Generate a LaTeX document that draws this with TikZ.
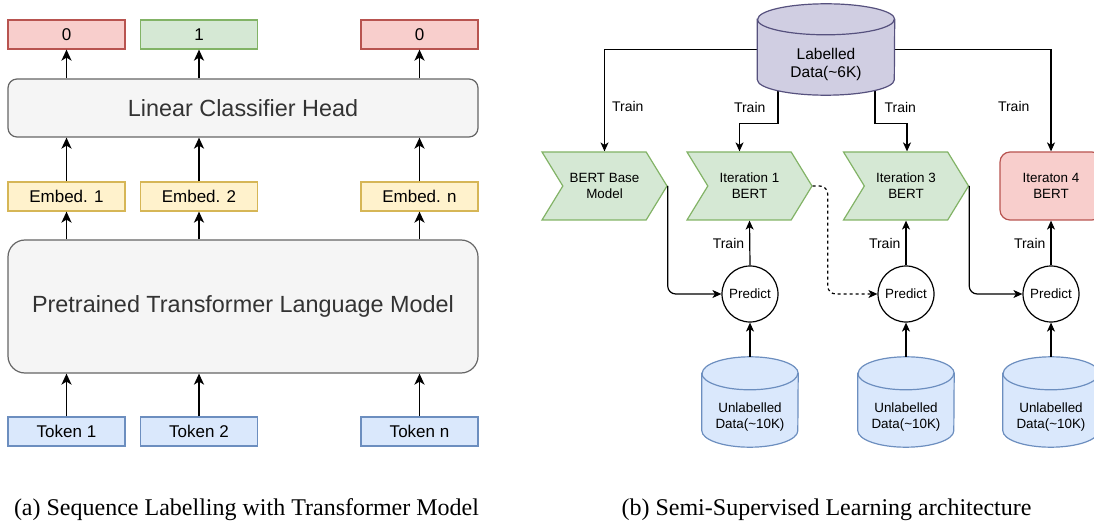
\documentclass[tikz,border=0pt]{standalone}
\usepackage{fontspec}
\setmainfont{Liberation Serif}
\setsansfont{Liberation Sans}
\usetikzlibrary{arrows.meta, calc, backgrounds, positioning, shapes.geometric, shapes.symbols}
\definecolor{redfill}{HTML}{F8CECC}\definecolor{redline}{HTML}{B85450}
\definecolor{greenfill}{HTML}{D5E8D4}\definecolor{greenline}{HTML}{82B366}
\definecolor{yellowfill}{HTML}{FFF2CC}\definecolor{yellowline}{HTML}{D6B656}
\definecolor{bluefill}{HTML}{DAE8FC}\definecolor{blueline}{HTML}{6C8EBF}
\definecolor{grayfill}{HTML}{F5F5F5}\definecolor{grayline}{HTML}{666666}
\definecolor{graytext}{HTML}{333333}
\definecolor{purplefill}{HTML}{D0CEE2}\definecolor{purpleline}{HTML}{56517E}
\tikzset{
	tokbox/.style={rectangle, line width=1.2pt, inner sep=0pt,
		minimum width=117pt, minimum height=29pt,
		font=\sffamily\fontsize{17}{20}\selectfont},
	bigbox/.style={rectangle, rounded corners=#1, line width=1.2pt,
		fill=grayfill, draw=grayline, text=graytext, minimum width=470pt,
		font=\sffamily\fontsize{23.4}{28}\selectfont},
	arrL/.style={-{Stealth[length=11pt,width=10pt,inset=3pt]}, line width=1.7pt},
	arrR/.style={-{Stealth[length=9pt,width=8pt,inset=2.5pt]}, line width=1.2pt},
	small/.style={font=\sffamily\fontsize{13.4}{16}\selectfont, align=center},
	trainlbl/.style={font=\sffamily\fontsize{14}{16}\selectfont, inner sep=0pt},
	chev/.style={small, signal, signal to=east, signal from=west,
		signal pointer angle=117, fill=greenfill, draw=greenline, line width=1.2pt,
		minimum width=125pt, minimum height=68pt, inner sep=0pt},
	pred/.style={small, circle, draw, line width=1.2pt, minimum size=56pt, inner sep=0pt},
	db/.style={rectangle, inner sep=0pt},
	dbtxt/.style={small, yshift=-15pt},
	caption/.style={font=\fontsize{24}{28}\selectfont, anchor=base, inner sep=0pt}
}
% cylinder round a named node: name, x radius, y radius, colour
\newcommand{\dbcyl}[4]{%
	\draw[line width=1.2pt, fill=#4fill, draw=#4line]
		($(#1.north west)+(0,#3)$) -- ($(#1.south west)+(0,-#3)$)
		arc[start angle=180, end angle=360, x radius=#2pt, y radius=#3pt]
		-- ($(#1.north east)+(0,#3)$)
		arc[start angle=0, end angle=180, x radius=#2pt, y radius=#3pt] -- cycle;
	\draw[line width=1.2pt, draw=#4line] ($(#1.north west)+(0,#3)$)
		arc[start angle=180, end angle=360, x radius=#2pt, y radius=#3pt];
}
\begin{document}
\begin{tikzpicture}[x=1pt, y=-1pt]
	\useasboundingbox (0,0) rectangle (1094,521);

	% (a) sequence labelling
	\node[bigbox=9pt, minimum height=58pt] (lch) at (243,108) {Linear Classifier Head};
	\node[bigbox=17pt, minimum height=133pt] (ptlm) at (243,306.5) {Pretrained Transformer Language Model};
	\foreach \x/\n/\v/\c in {66.5/1/0/red, 199/2/1/green, 419.5/n/0/red} {
		\node[tokbox, fill=\c fill, draw=\c line] (out\n) at (\x,34.5) {\v};
		\node[tokbox, fill=yellowfill, draw=yellowline] (emb\n) at (\x,196.5) {Embed. \n};
		\node[tokbox, fill=bluefill, draw=blueline] (tok\n) at (\x,431.5) {Token \n};
		\draw[arrL] (tok\n.north) -- (tok\n.north |- ptlm.south);
		\draw[arrL] (emb\n.south |- ptlm.north) -- (emb\n.south);
		\draw[arrL] (emb\n.north) -- (emb\n.north |- lch.south);
		\draw[arrL] (out\n.south |- lch.north) -- (out\n.south);
	}
	\node[caption] (capa) at (246.5,515) {(a) Sequence Labelling with Transformer Model};

	% (b) semi-supervised learning
	\node[db, minimum width=137pt, minimum height=91pt,
		label={[dbtxt, font=\sffamily\fontsize{15.5}{18}\selectfont]center:Labelled\\Data(\textasciitilde6K)}] (lab) at (826,49.5) {};
	\node[chev] (base) at (604.5,186) {BERT Base\\Model};
	\node[chev] (it1) at (749.5,186) {Iteration 1\\BERT};
	\node[chev] (it3) at (906,186) {Iteration 3\\BERT};
	\node[small, rectangle, rounded corners=10pt, fill=redfill, draw=redline, line width=1.2pt,
		minimum width=102pt, minimum height=68pt] (it4) at (1051,186) {Iteraton 4\\BERT};
	\foreach \i/\x in {1/750, 3/906, 4/1051} {
		\node[pred] (pred\i) at (\x,294) {Predict};
		\node[db, minimum width=96pt, minimum height=90pt,
			label={[dbtxt]center:Unlabelled\\Data(\textasciitilde10K)}] (unl\i) at (\x,402) {};
		\draw[arrR] (unl\i.north) -- (pred\i.south);
		\draw[arrR] (pred\i.north) -- node[trainlbl, left=5pt] {Train} (it\i.south);
	}
	\begin{scope}[on background layer]
		\draw[arrR] (lab.west) -| node[trainlbl, pos=0.78, right=7pt] {Train} (base.north);
		\draw[arrR] ($(lab.center)+(-48,0)$) |- node[trainlbl, pos=0.39, left=12pt] {Train} ($(it1.north)+(-10,-28)$) -- ($(it1.north)+(-10,0)$);
		\draw[arrR] ($(lab.center)+(49,0)$) |- node[trainlbl, pos=0.39, right=9pt] {Train} ($(it3.north)+(1,-28)$) -- ($(it3.north)+(1,0)$);
		\draw[arrR] (lab.east) -| node[trainlbl, pos=0.78, left=21pt] {Train} (it4.north);
		\dbcyl{lab}{68.5}{15.5}{purple}
		\foreach \i in {1,3,4} { \dbcyl{unl\i}{48}{16.5}{blue} }
	\end{scope}
	\draw[arrR, rounded corners=8pt] (base.east) |- (pred1.west);
	\draw[arrR, dashed, rounded corners=8pt] (it1.east) -- ++(15,0) |- (pred3.west);
	\draw[arrR, rounded corners=8pt] (it3.east) |- (pred4.west);
	\node[caption] (capb) at (826.5,515) {(b) Semi-Supervised Learning architecture};
\end{tikzpicture}
\end{document}
